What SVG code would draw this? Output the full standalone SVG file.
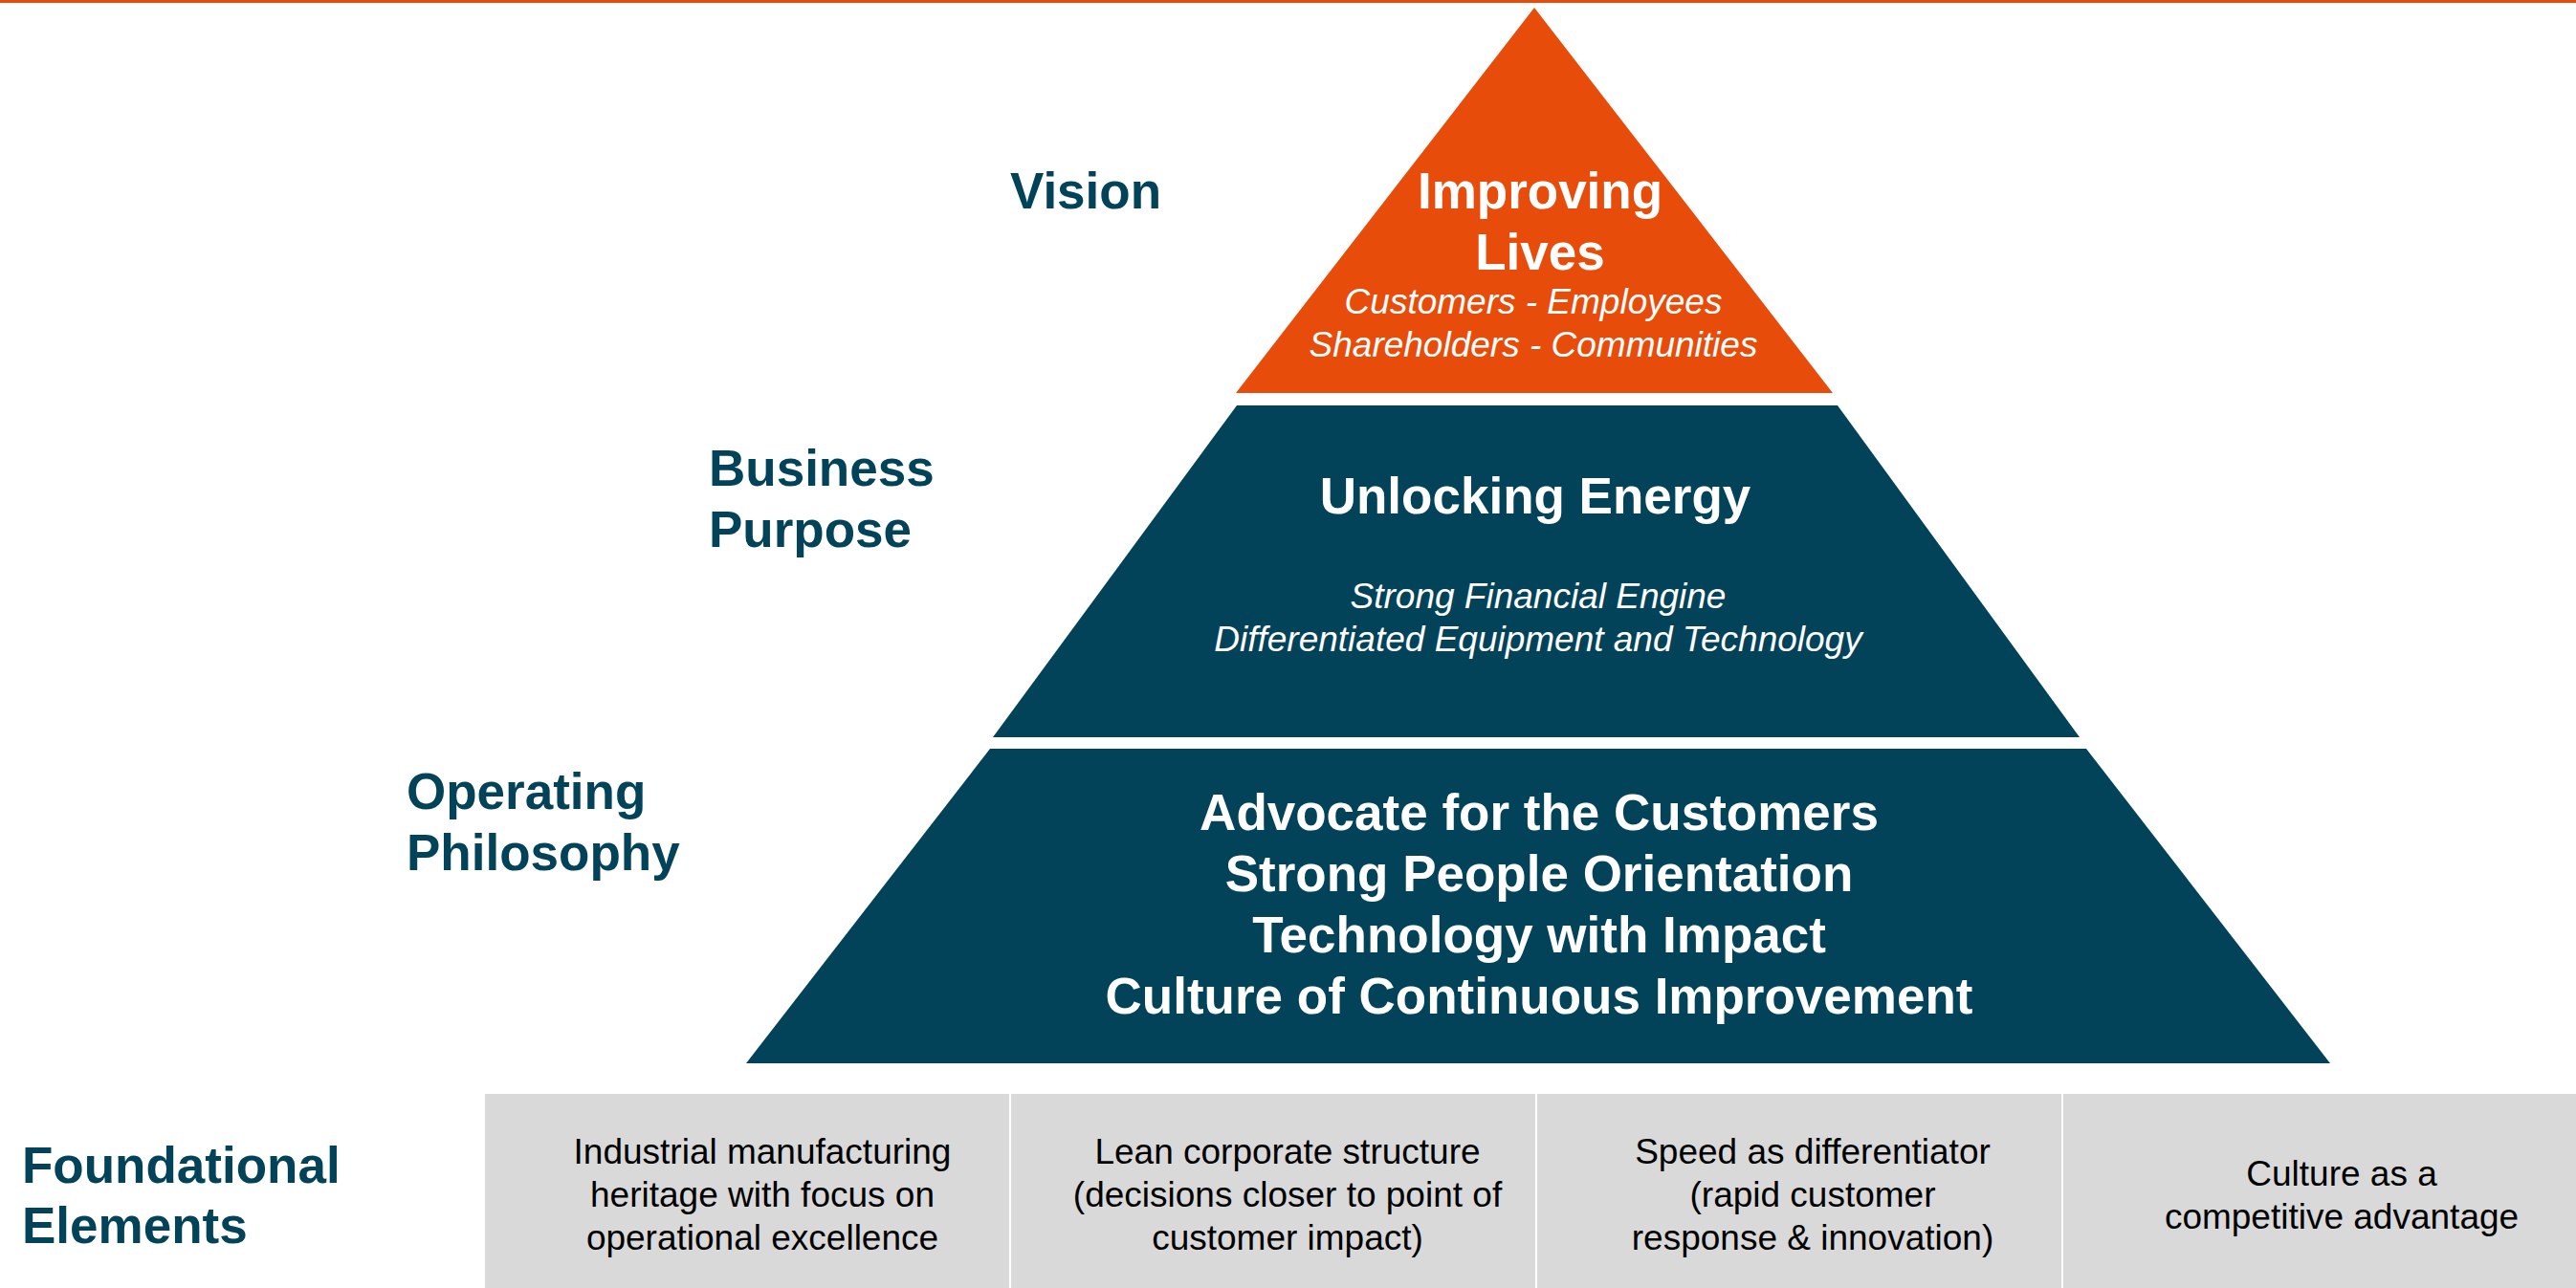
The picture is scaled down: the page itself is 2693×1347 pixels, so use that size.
<svg xmlns="http://www.w3.org/2000/svg" width="2693" height="1347" viewBox="0 0 2693 1347">
<style>
.lbl{font-family:"Liberation Sans",Arial,sans-serif;font-weight:bold;font-size:53px;fill:#03435A}
.wb{font-family:"Liberation Sans",Arial,sans-serif;font-weight:bold;font-size:53px;fill:#FFFFFF;text-anchor:middle}
.wi{font-family:"Liberation Sans",Arial,sans-serif;font-style:italic;font-size:37px;fill:#FFFFFF;text-anchor:middle}
.bt{font-family:"Liberation Sans",Arial,sans-serif;font-size:37px;fill:#000000;text-anchor:middle}
.navy{fill:#03435A}
.box{fill:#D9D9D9}
</style>
<rect x="0" y="0" width="2693" height="1347" fill="#FFFFFF"/>
<rect x="0" y="0" width="2693" height="3" fill="#E84C0A"/>

<g id="vision">
<polygon points="1604,8 1916,411 1292,411" fill="#E84C0A"/>
<text class="wb" x="1610" y="218">Improving</text>
<text class="wb" x="1610" y="282">Lives</text>
<text class="wi" x="1603" y="328">Customers - Employees</text>
<text class="wi" x="1603" y="373">Shareholders - Communities</text>
</g>

<g id="business-purpose">
<polygon class="navy" points="1293,424 1921,424 2174,771 1038,771"/>
<text class="wb" x="1605" y="537">Unlocking Energy</text>
<text class="wi" x="1608" y="636">Strong Financial Engine</text>
<text class="wi" x="1608" y="681">Differentiated Equipment and Technology</text>
</g>

<g id="operating-philosophy">
<polygon class="navy" points="1035,783 2181,783 2436,1112 780,1112"/>
<text class="wb" x="1609" y="868">Advocate for the Customers</text>
<text class="wb" x="1609" y="932">Strong People Orientation</text>
<text class="wb" x="1609" y="996">Technology with Impact</text>
<text class="wb" x="1609" y="1060">Culture of Continuous Improvement</text>
</g>

<g id="labels">
<text class="lbl" x="1056" y="218">Vision</text>
<text class="lbl" x="741" y="508">Business</text>
<text class="lbl" x="741" y="572">Purpose</text>
<text class="lbl" x="425" y="846">Operating</text>
<text class="lbl" x="425" y="910">Philosophy</text>
<text class="lbl" x="23" y="1237">Foundational</text>
<text class="lbl" x="23" y="1300">Elements</text>
</g>

<g id="foundation-1">
<rect class="box" x="507" y="1144" width="548" height="203"/>
<text class="bt" x="797" y="1217">Industrial manufacturing</text>
<text class="bt" x="797" y="1262">heritage with focus on</text>
<text class="bt" x="797" y="1307">operational excellence</text>
</g>
<g id="foundation-2">
<rect class="box" x="1057" y="1144" width="548" height="203"/>
<text class="bt" x="1346" y="1217">Lean corporate structure</text>
<text class="bt" x="1346" y="1262">(decisions closer to point of</text>
<text class="bt" x="1346" y="1307">customer impact)</text>
</g>
<g id="foundation-3">
<rect class="box" x="1607" y="1144" width="548" height="203"/>
<text class="bt" x="1895" y="1217">Speed as differentiator</text>
<text class="bt" x="1895" y="1262">(rapid customer</text>
<text class="bt" x="1895" y="1307">response &amp; innovation)</text>
</g>
<g id="foundation-4">
<rect class="box" x="2157" y="1144" width="536" height="203"/>
<text class="bt" x="2448" y="1240">Culture as a</text>
<text class="bt" x="2448" y="1285">competitive advantage</text>
</g>
<g id="connectors"></g>
</svg>
